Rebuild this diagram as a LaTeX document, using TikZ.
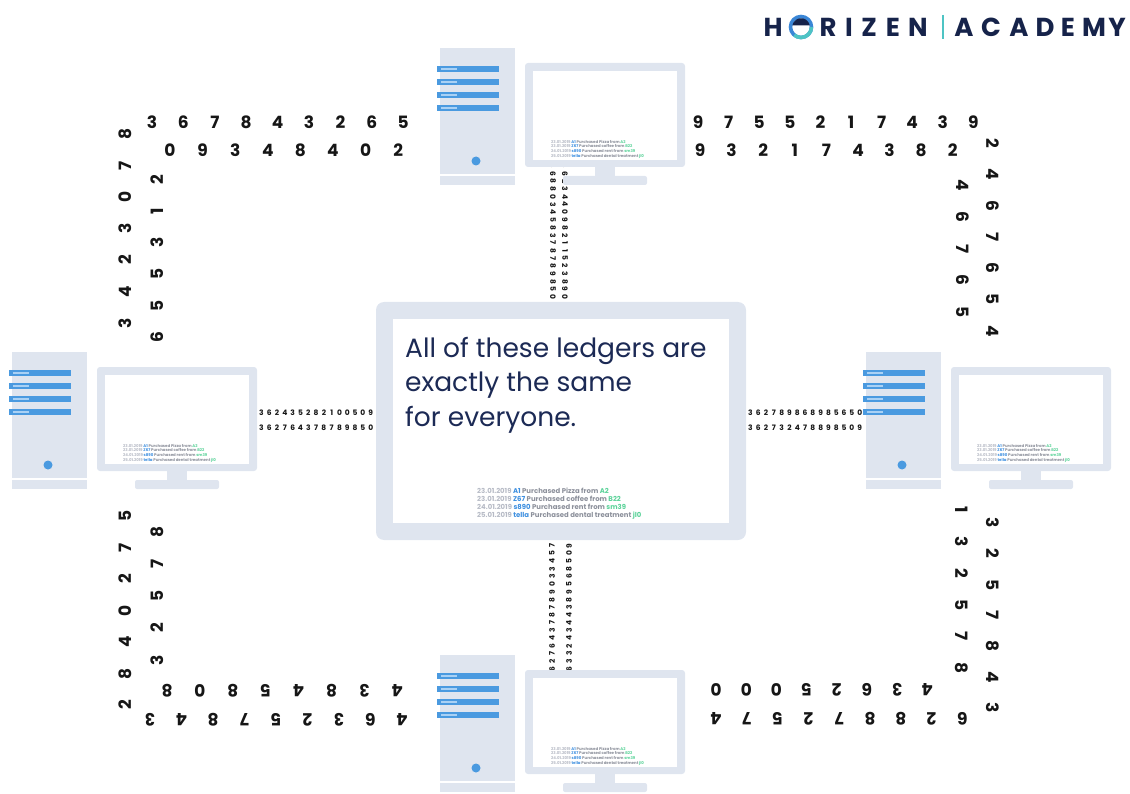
\documentclass[tikz,border=0pt]{standalone}
\usepackage{fontspec}
\setmainfont{Poppins}
\usetikzlibrary{positioning}

\definecolor{framegray}{HTML}{DFE5EF}
\definecolor{barblue}{HTML}{4A9AE0}
\definecolor{barlight}{HTML}{A9D1F5}
\definecolor{inknavy}{HTML}{1C2A55}
\definecolor{digitink}{HTML}{161616}
\definecolor{logonavy}{HTML}{16234A}
\definecolor{logoblue}{HTML}{3A86D6}
\definecolor{logoteal}{HTML}{4EC4C4}
\definecolor{ldate}{HTML}{B7BBC6}
\definecolor{lid}{HTML}{3D8FE0}
\definecolor{ltext}{HTML}{8C909B}
\definecolor{lpay}{HTML}{5CD39A}

% the four ledger entries shown on every screen
\newcommand\ledgerlines{%
  \textcolor{ldate}{23.01.2019} \textcolor{lid}{A1} Purchased Pizza from \textcolor{lpay}{A2}\\
  \textcolor{ldate}{23.01.2019} \textcolor{lid}{Z67} Purchased coffee from \textcolor{lpay}{B22}\\
  \textcolor{ldate}{24.01.2019} \textcolor{lid}{s890} Purchased rent from \textcolor{lpay}{sm39}\\
  \textcolor{ldate}{25.01.2019} \textcolor{lid}{tella} Purchased dental treatment \textcolor{lpay}{jl0}}

\begin{document}
\begin{tikzpicture}[
    x=1pt, y=-1pt,
    case/.style={fill=framegray},
    bay/.style={fill=barblue},
    digit/.style={font=\bfseries\fontsize{17}{17}\selectfont, text=digitink, inner sep=0pt},
    tinydigit/.style={font=\bfseries\fontsize{7.5}{7.5}\selectfont, text=digitink, inner sep=0pt},
    ledger/.style={align=left, inner sep=0pt, text=ltext, font=\bfseries\fontsize{6.9}{8}\selectfont},
    smallledger/.style={ledger, font=\bfseries\fontsize{3.9}{4.6}\selectfont},
    message/.style={inner sep=0pt, text=inknavy, font=\fontsize{26.5}{26.5}\selectfont},
    logoletter/.style={inner sep=0pt, text=logonavy, font=\bfseries\fontsize{26}{26}\selectfont},
    computer/.pic={
        % tower
        \fill[case] (0,0) rectangle (75,126);
        \fill[case] (0,128) rectangle (75,137);
        \foreach \b in {21,34,47,60} {
            \fill[bay] (-3,\b-3) rectangle (59,\b+3);
            \fill[barlight] (1,\b-1) rectangle (17,\b+1);
        }
        \fill[bay] (36,113) circle (4.5);
        % monitor
        \fill[case, rounded corners=3] (85,15) rectangle (245,119);
        \fill[white] (93,23) rectangle (237,112);
        \fill[case] (155,119) rectangle (175,128);
        \fill[case, rounded corners=2] (123,128) rectangle (207,137);
        \node[smallledger, anchor=north west] (-ledger) at (111,92) {\ledgerlines};
    }
]
\useasboundingbox (0,0) rectangle (1130,794);
\clip (0,0) rectangle (1130,794);

% Logo
\foreach \ch/\px in {H/773, R/828, I/849, Z/869, E/893, N/918, A/964, C/991, A/1019, D/1045, E/1068, M/1094, Y/1117}
    \node[logoletter] (logo\ch\px) at (\px,27) {\ch};
\draw[line width=3.6, logoblue] (801,27) circle (10.5);
\draw[line width=3.6, logoteal] (801,27) ++(0:10.5) arc[start angle=0, end angle=130, radius=10.5];
\fill[logonavy] (801,27) ++(190:8.8) arc[start angle=190, end angle=350, radius=8.8] -- cycle;
\draw[line width=1.2, logoteal] (943,15) -- (943,39);

% Digit streams between the computers
\foreach \d [count=\i from 0] in {3,6,2,4,3,5,2,8,2,1,0,0,5,0,9}
    \node[tinydigit] (wa\i) at ({261.5+7.8*\i},413) {\d};
\foreach \d [count=\i from 0] in {3,6,2,7,6,4,3,7,8,7,8,9,8,5,0}
    \node[tinydigit] (wb\i) at ({261.5+7.8*\i},428) {\d};
\foreach \d [count=\i from 0] in {3,6,2,7,8,9,8,6,8,9,8,5,6,5,0}
    \node[tinydigit] (ea\i) at ({750.5+7.8*\i},413) {\d};
\foreach \d [count=\i from 0] in {3,6,2,7,3,2,4,7,8,8,9,8,5,0,9}
    \node[tinydigit] (eb\i) at ({750.5+7.8*\i},428) {\d};
\foreach \d [count=\i from 0] in {3,6,8,8,0,3,4,5,8,3,7,8,7,8,9,8,5,0}
    \node[tinydigit, rotate=-90] (na\i) at (553,{166+7.7*\i}) {\d};
\foreach \d [count=\i from 0] in {3,6,2,3,4,4,0,9,8,2,1,1,5,2,3,8,9,0}
    \node[tinydigit, rotate=-90] (nb\i) at (565,{166+7.7*\i}) {\d};
\foreach \d [count=\i from 0] in {6,2,7,6,4,3,7,8,7,8,9,0,3,3,4,5,7,0}
    \node[tinydigit, rotate=90] (sa\i) at (552,{669-7.7*\i}) {\d};
\foreach \d [count=\i from 0] in {6,3,3,2,4,3,4,4,3,8,9,5,6,8,5,0,9}
    \node[tinydigit, rotate=90] (sb\i) at (569,{669-7.7*\i}) {\d};

% Top left corner
\foreach \d [count=\i from 0] in {3,6,7,8,4,3,2,6,5}
    \node[digit] (tla\i) at ({152+31.4*\i},122) {\d};
\foreach \d [count=\i from 0] in {0,9,3,4,8,4,0,2}
    \node[digit] (tlb\i) at ({170+32.6*\i},150) {\d};
\foreach \d [count=\i from 0] in {8,7,0,3,2,4,3}
    \node[digit, rotate=90] (tlc\i) at (125,{134+31.5*\i}) {\d};
\foreach \d [count=\i from 0] in {2,1,3,5,5,6}
    \node[digit, rotate=90] (tld\i) at (157,{180+31.4*\i}) {\d};

% Top right corner
\foreach \d [count=\i from 0] in {9,7,5,5,2,1,7,4,3,9}
    \node[digit] (tra\i) at ({698+30.6*\i},122) {\d};
\foreach \d [count=\i from 0] in {9,3,2,1,7,4,3,8,2}
    \node[digit] (trb\i) at ({700+31.6*\i},150) {\d};
\foreach \d [count=\i from 0] in {2,4,6,7,6,5,4}
    \node[digit, rotate=-90] (trc\i) at (993,{143+31.3*\i}) {\d};
\foreach \d [count=\i from 0] in {4,6,7,6,5}
    \node[digit, rotate=-90] (trd\i) at (963,{185+31.8*\i}) {\d};

% Bottom left corner
\foreach \d [count=\i from 0] in {5,7,2,0,4,8,2}
    \node[digit, rotate=90] (blc\i) at (125,{516+31.5*\i}) {\d};
\foreach \d [count=\i from 0] in {8,7,5,2,3}
    \node[digit, rotate=90] (bld\i) at (157,{532+32*\i}) {\d};
\foreach \d [count=\i from 0] in {8,0,8,5,4,8,3,4}
    \node[digit, rotate=180] (bla\i) at ({167+32.9*\i},691) {\d};
\foreach \d [count=\i from 0] in {3,4,8,7,5,2,3,6,4}
    \node[digit, rotate=180] (blb\i) at ({150+31.5*\i},720) {\d};

% Bottom right corner
\foreach \d [count=\i from 0] in {1,3,2,5,7,8}
    \node[digit, rotate=-90] (brd\i) at (962,{510+31.6*\i}) {\d};
\foreach \d [count=\i from 0] in {3,2,5,7,8,4,3}
    \node[digit, rotate=-90] (brc\i) at (993,{523+30.8*\i}) {\d};
\foreach \d [count=\i from 0] in {0,0,0,5,2,6,3,4}
    \node[digit, rotate=180] (bra\i) at ({716+30.2*\i},690) {\d};
\foreach \d [count=\i from 0] in {4,7,5,2,7,8,8,2,6}
    \node[digit, rotate=180] (brb\i) at ({716+30.8*\i},719) {\d};

% Computers
\pic (topPC) at (440,48) {computer};
\pic (leftPC) at (12,352) {computer};
\pic (rightPC) at (866,352) {computer};
\pic (bottomPC) at (440,655) {computer};

% Shared ledger in the middle
\node[case, rounded corners=8, minimum width=370, minimum height=238] (ledgerframe) at (561,421) {};
\node[fill=white, minimum width=336, minimum height=204] (ledgerscreen) at (ledgerframe) {};
\node[message, anchor=base west] (msg1) at (405,357) {All of these ledgers are};
\node[message, anchor=base west] (msg2) at (405,391.5) {exactly the same};
\node[message, anchor=base west] (msg3) at (405,426) {for everyone.};
\node[ledger, anchor=north west] (ledgerrows) at (477,488) {\ledgerlines};

\end{tikzpicture}
\end{document}
